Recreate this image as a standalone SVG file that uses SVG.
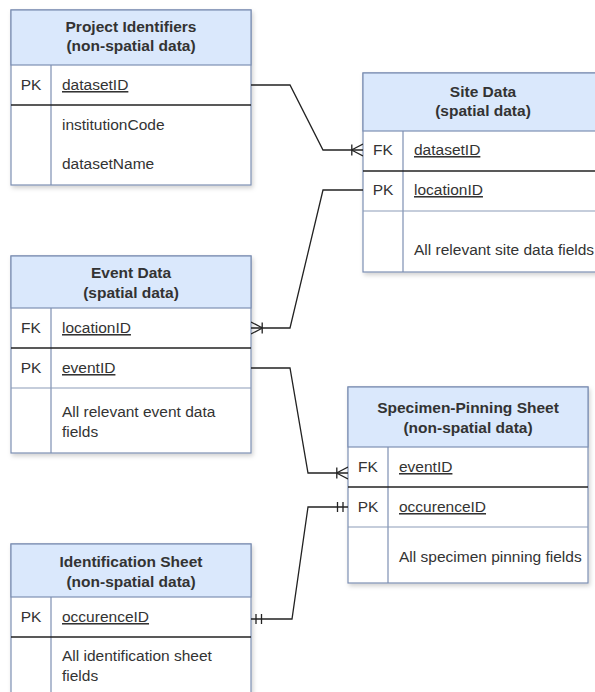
<svg xmlns="http://www.w3.org/2000/svg" width="595" height="692" viewBox="0 0 595 692">
<style>
  .box { fill: #ffffff; stroke: #7d8fb3; stroke-width: 1.2; }
  .hdr { fill: #dae8fc; stroke: #7d8fb3; stroke-width: 1.2; }
  .col { stroke: #7d8fb3; stroke-width: 1.2; fill: none; }
  .dark { stroke: #222222; stroke-width: 1.3; fill: none; }
  .light { stroke: #8c9bb8; stroke-width: 1.1; fill: none; }
  text { font-family: "Liberation Sans", Arial, sans-serif; font-size: 15.5px; fill: #333333; }
  .title { font-weight: bold; text-anchor: middle; }
  .key { text-anchor: middle; }
  .u { text-decoration: underline; }
  .conn { stroke: #222222; stroke-width: 1.3; fill: none; }
</style>
<defs>
  <filter id="sh" x="-5%" y="-5%" width="115%" height="115%">
    <feDropShadow dx="1.5" dy="2.5" stdDeviation="2" flood-color="#000" flood-opacity="0.18"/>
  </filter>
  <marker id="many" markerUnits="userSpaceOnUse" viewBox="0 0 12 14" refX="12" refY="7" markerWidth="12" markerHeight="14" orient="auto-start-reverse">
    <path d="M0.5,7 L12,1 M0.5,7 L12,13 M0.8,1.5 V12.5" stroke="#222222" stroke-width="1.3" fill="none"/>
  </marker>
  <marker id="one" markerUnits="userSpaceOnUse" viewBox="0 0 12 12" refX="12" refY="6" markerWidth="12" markerHeight="12" orient="auto-start-reverse">
    <path d="M1.5,1 V11 M7,1 V11" stroke="#222222" stroke-width="1.3" fill="none"/>
  </marker>
</defs>

<g id="project-identifiers">
  <rect class="box" x="11" y="10" width="240" height="175" filter="url(#sh)"/>
  <rect class="hdr" x="11" y="10" width="240" height="55"/>
  <line class="col" x1="51" y1="65" x2="51" y2="185"/>
  <line class="dark" x1="11" y1="105" x2="251" y2="105"/>
  <text class="title" x="131" y="32">Project Identifiers</text>
  <text class="title" x="131" y="51">(non-spatial data)</text>
  <text class="key" x="31" y="90">PK</text>
  <text class="u" x="62" y="90">datasetID</text>
  <text x="62" y="130">institutionCode</text>
  <text x="62" y="169">datasetName</text>
</g>

<g id="site-data">
  <rect class="box" x="363" y="73" width="240" height="199" filter="url(#sh)"/>
  <rect class="hdr" x="363" y="73" width="240" height="58"/>
  <line class="col" x1="403" y1="131" x2="403" y2="272"/>
  <line class="dark" x1="363" y1="171" x2="603" y2="171"/>
  <line class="light" x1="363" y1="211" x2="603" y2="211"/>
  <text class="title" x="483" y="97">Site Data</text>
  <text class="title" x="483" y="116">(spatial data)</text>
  <text class="key" x="383" y="155">FK</text>
  <text class="u" x="414" y="155">datasetID</text>
  <text class="key" x="383" y="195">PK</text>
  <text class="u" x="414" y="195">locationID</text>
  <text x="414" y="255">All relevant site data fields</text>
</g>

<g id="event-data">
  <rect class="box" x="11" y="256" width="240" height="197" filter="url(#sh)"/>
  <rect class="hdr" x="11" y="256" width="240" height="52"/>
  <line class="col" x1="51" y1="308" x2="51" y2="453"/>
  <line class="dark" x1="11" y1="348" x2="251" y2="348"/>
  <line class="light" x1="11" y1="388" x2="251" y2="388"/>
  <text class="title" x="131" y="278">Event Data</text>
  <text class="title" x="131" y="298">(spatial data)</text>
  <text class="key" x="31" y="333">FK</text>
  <text class="u" x="62" y="333">locationID</text>
  <text class="key" x="31" y="373">PK</text>
  <text class="u" x="62" y="373">eventID</text>
  <text x="62" y="417">All relevant event data</text>
  <text x="62" y="437">fields</text>
</g>

<g id="specimen-pinning-sheet">
  <rect class="box" x="348" y="387" width="240" height="196" filter="url(#sh)"/>
  <rect class="hdr" x="348" y="387" width="240" height="60"/>
  <line class="col" x1="388" y1="447" x2="388" y2="583"/>
  <line class="dark" x1="348" y1="487" x2="588" y2="487"/>
  <line class="light" x1="348" y1="527" x2="588" y2="527"/>
  <text class="title" x="468" y="413">Specimen-Pinning Sheet</text>
  <text class="title" x="468" y="433">(non-spatial data)</text>
  <text class="key" x="368" y="472">FK</text>
  <text class="u" x="399" y="472">eventID</text>
  <text class="key" x="368" y="512">PK</text>
  <text class="u" x="399" y="512">occurenceID</text>
  <text x="399" y="562">All specimen pinning fields</text>
</g>

<g id="identification-sheet">
  <rect class="box" x="11" y="544" width="240" height="160" filter="url(#sh)"/>
  <rect class="hdr" x="11" y="544" width="240" height="53"/>
  <line class="col" x1="51" y1="597" x2="51" y2="704"/>
  <line class="dark" x1="11" y1="637" x2="251" y2="637"/>
  <text class="title" x="131" y="567">Identification Sheet</text>
  <text class="title" x="131" y="587">(non-spatial data)</text>
  <text class="key" x="31" y="622">PK</text>
  <text class="u" x="62" y="622">occurenceID</text>
  <text x="62" y="661">All identification sheet</text>
  <text x="62" y="681">fields</text>
</g>

<g id="connectors">
  <path class="conn" d="M251,85 H290 L323,150 H363" marker-end="url(#many)"/>
  <path class="conn" d="M363,190 H323 L290,328 H251" marker-end="url(#many)"/>
  <path class="conn" d="M251,368 H290 L308,473 H348" marker-end="url(#many)"/>
  <path class="conn" d="M348,507 H308 L292,619 H251" marker-start="url(#one)" marker-end="url(#one)"/>
</g>
</svg>
